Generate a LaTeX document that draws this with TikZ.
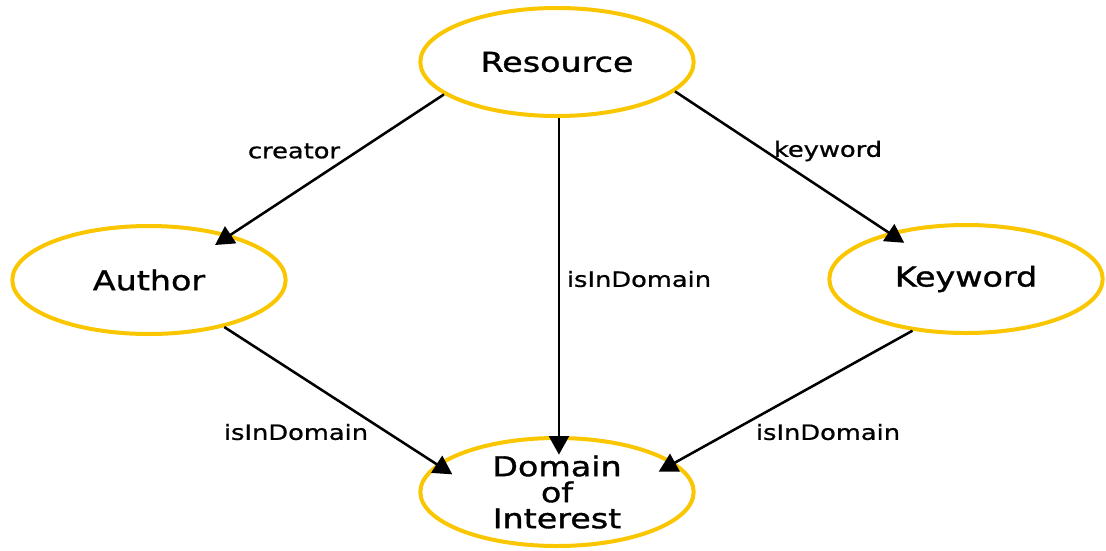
\documentclass[tikz,border=0pt]{standalone}
\usepackage{fontspec}
\newfontfamily\diagfont[FakeStretch=1.22,FakeBold=1.2]{DejaVu Sans}
\newfontfamily\edgefont[FakeStretch=1.22,FakeBold=0.9]{DejaVu Sans}
\usetikzlibrary{arrows.meta,shapes.geometric}
\definecolor{ovalyellow}{RGB}{250,198,0}
\tikzset{
  oval/.style={ellipse, draw=ovalyellow, line width=3pt, minimum width=205pt, minimum height=81pt, inner sep=0pt, align=center, font=\diagfont\fontsize{20.5}{19.5}\selectfont},
  rel/.style={line width=1.9pt, -{Triangle[length=14pt,width=15pt]}, shorten >=-14pt},
  rellabel/.style={font=\edgefont\fontsize{15.8}{18}\selectfont, inner sep=0pt}
}
\begin{document}
\begin{tikzpicture}[x=0.75pt,y=0.75pt,yscale=-1,xscale=1]
%set diagram left start at 0, and has height of 550
\useasboundingbox (0,0) rectangle (1106,550);

%Shape: Ellipse
\node[oval] (res) at (557,62) {Resource};
%Shape: Ellipse
\node[oval] (aut) at (149,280) {Author};
%Shape: Ellipse
\node[oval] (kw) at (966,279) {Keyword};
%Shape: Ellipse
\node[oval] (dom) at (557,492) {Domain\\of\\Interest};

%Straight Lines
\draw[rel] (res.196) -- (aut.29);
%Straight Lines
\draw[rel] (res.-88) -- (res.-88 |- dom.north);
%Straight Lines
\draw[rel] (res.-14) -- (kw.149);
%Straight Lines
\draw[rel] (aut.-32) -- (dom.167);
%Straight Lines
\draw[rel] (kw.224) -- (dom.14);

% Text Node
\node[rellabel] (lcreator) at (294,151) {creator};
% Text Node
\node[rellabel] (lkeyword) at (828,151) {keyword};
% Text Node
\node[rellabel] (ldomres) at (639,279) {isInDomain};
% Text Node
\node[rellabel] (ldomaut) at (296,432) {isInDomain};
% Text Node
\node[rellabel] (ldomkw) at (828,432) {isInDomain};

\end{tikzpicture}
\end{document}
